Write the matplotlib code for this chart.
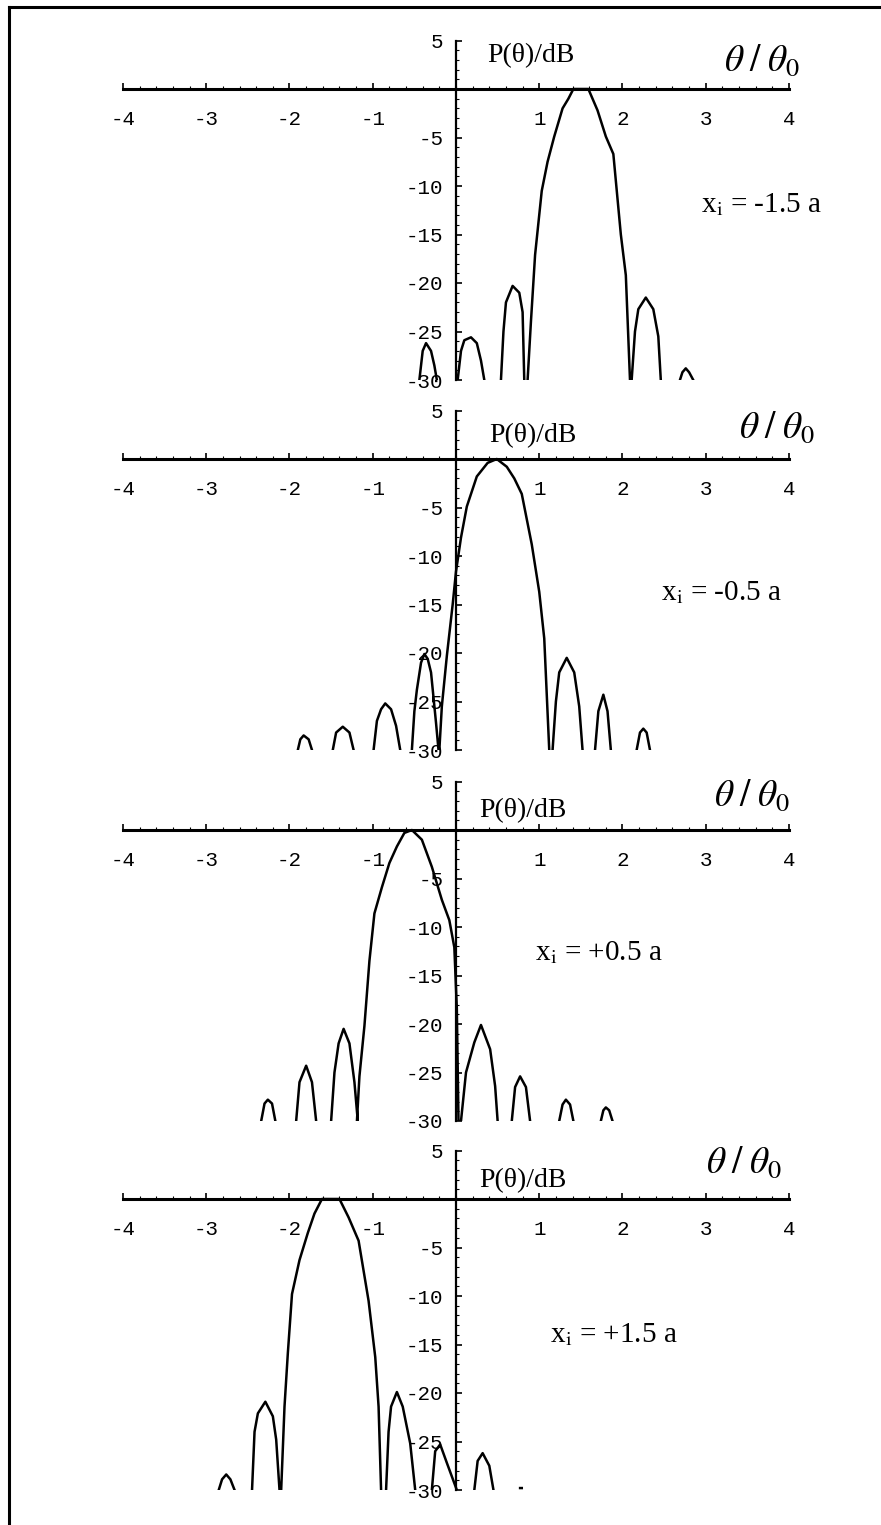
import numpy as np
import matplotlib
matplotlib.use("Agg")
import matplotlib.pyplot as plt
from matplotlib.lines import Line2D

plt.rcParams['axes.unicode_minus'] = False
plt.rcParams['mathtext.fontset'] = 'stix'

nan = np.nan

# x_i = -1.5 a  (lobes separated by nan)
p1_x = [0.86, 0.90, 0.95, 1.03, 1.10, 1.18, 1.28, 1.35, 1.41, 1.50, 1.59, 1.65, 1.70, 1.80, 1.89, 1.98, 2.04, 2.09, nan,
        -0.44, -0.40, -0.36, -0.30, -0.26, -0.23, nan,
        0.02, 0.06, 0.10, 0.18, 0.25, 0.30, 0.34, nan,
        0.54, 0.57, 0.60, 0.68, 0.76, 0.80, 0.82, nan,
        2.11, 2.15, 2.19, 2.28, 2.37, 2.43, 2.46, nan,
        2.69, 2.72, 2.76, 2.80, 2.85]
p1_y = [-30, -24, -17.1, -10.5, -7.5, -4.9, -2.0, -1.0, 0, 0, 0, -1.2, -2.2, -4.9, -6.7, -15, -19.2, -30, nan,
        -30, -27, -26.2, -27, -28.5, -30, nan,
        -30, -27, -25.9, -25.6, -26.2, -28, -30, nan,
        -30, -25, -22, -20.3, -21, -23, -30, nan,
        -30, -25, -22.7, -21.5, -22.7, -25.5, -30, nan,
        -30, -29.2, -28.8, -29.2, -30]

# x_i = -0.5 a
p2_x = [-0.20, -0.17, -0.11, -0.04, 0.0, 0.06, 0.13, 0.25, 0.38, 0.49, 0.61, 0.70, 0.79, 0.91, 1.0, 1.06, 1.12, nan,
        -0.53, -0.50, -0.47, -0.42, -0.38, -0.34, -0.30, -0.24, -0.21, nan,
        -0.99, -0.95, -0.90, -0.85, -0.78, -0.72, -0.67, nan,
        -1.48, -1.44, -1.36, -1.28, -1.23, nan,
        -1.90, -1.87, -1.83, -1.77, -1.73, nan,
        1.16, 1.20, 1.24, 1.33, 1.42, 1.48, 1.52, nan,
        1.67, 1.71, 1.77, 1.82, 1.86, nan,
        2.17, 2.21, 2.25, 2.29, 2.33]
p2_y = [-30, -25.5, -20.3, -15, -11.6, -8.1, -4.9, -1.8, -0.4, 0, -0.8, -2.0, -3.6, -8.8, -13.7, -18.5, -30, nan,
        -30, -26, -23.8, -21, -20.1, -20.6, -22, -27.2, -30, nan,
        -30, -27, -25.8, -25.2, -25.8, -27.5, -30, nan,
        -30, -28.2, -27.6, -28.2, -30, nan,
        -30, -28.9, -28.5, -28.9, -30, nan,
        -30, -25, -22, -20.5, -22, -25.5, -30, nan,
        -30, -26, -24.3, -26, -30, nan,
        -30, -28.2, -27.8, -28.2, -30]

# x_i = +0.5 a
p3_x = [-1.19, -1.16, -1.10, -1.04, -0.98, -0.89, -0.80, -0.71, -0.62, -0.53, -0.41, -0.29, -0.17, -0.08, -0.02, 0.01, 0.03, nan,
        0.06, 0.12, 0.22, 0.30, 0.41, 0.47, 0.50, nan,
        0.67, 0.71, 0.77, 0.84, 0.89, nan,
        1.24, 1.28, 1.32, 1.37, 1.41, nan,
        1.74, 1.77, 1.80, 1.84, 1.88, nan,
        -1.50, -1.46, -1.41, -1.35, -1.28, -1.22, -1.18, nan,
        -1.92, -1.88, -1.80, -1.73, -1.68, nan,
        -2.34, -2.30, -2.26, -2.21, -2.17]
p3_y = [-30, -25.4, -20.2, -13.5, -8.6, -5.9, -3.4, -1.7, -0.3, 0, -1.0, -3.8, -7.2, -9.3, -12.1, -18.4, -30, nan,
        -30, -25, -21.9, -20.1, -22.6, -26.4, -30, nan,
        -30, -26.5, -25.4, -26.5, -30, nan,
        -30, -28.3, -27.8, -28.3, -30, nan,
        -30, -28.9, -28.6, -28.9, -30, nan,
        -30, -25, -22, -20.5, -22, -26, -30, nan,
        -30, -26, -24.3, -26, -30, nan,
        -30, -28.2, -27.8, -28.2, -30]

# x_i = +1.5 a
p4_x = [-2.10, -2.06, -2.02, -1.97, -1.88, -1.78, -1.70, -1.61, -1.50, -1.40, -1.29, -1.17, -1.05, -0.97, -0.93, -0.90, nan,
        -2.45, -2.42, -2.38, -2.29, -2.20, -2.16, -2.12, nan,
        -2.85, -2.81, -2.76, -2.71, -2.66, nan,
        -0.84, -0.81, -0.78, -0.71, -0.64, -0.55, -0.49, nan,
        -0.29, -0.25, -0.19, -0.11, 0.01, nan,
        0.22, 0.26, 0.32, 0.40, 0.45, nan,
        0.77, 0.79]
p4_y = [-30, -21.4, -15.9, -9.8, -6.3, -3.5, -1.5, 0, 0, 0, -1.9, -4.3, -10.5, -16.3, -21.4, -30, nan,
        -30, -24, -22.1, -20.9, -22.4, -24.8, -30, nan,
        -30, -28.9, -28.4, -28.9, -30, nan,
        -30, -24, -21.4, -19.9, -21.4, -25.2, -30, nan,
        -30, -26, -25.3, -27.2, -30, nan,
        -30, -27, -26.2, -27.5, -30, nan,
        -29.8, -29.8]

curves_x = [p1_x, p2_x, p3_x, p4_x]
curves_y = [p1_y, p2_y, p3_y, p4_y]
xi_labels = ['-1.5 a', '-0.5 a', '+0.5 a', '+1.5 a']
xi_pos = [(2.94, -11.9), (2.46, -13.8), (0.95, -12.6), (1.13, -14.0)]
p_pos = [(0.37, 2.8), (0.40, 1.7), (0.28, 1.3), (0.28, 1.2)]
th_pos = [(3.22, 1.9), (3.40, 2.2), (3.10, 2.5), (3.00, 2.7)]

xticks = [-4, -3, -2, -1, 1, 2, 3, 4]
yticks = [5, -5, -10, -15, -20, -25, -30]

W, H = 881, 1525
fig = plt.figure(figsize=(W / 100, H / 100), dpi=100)

zero_px = [89, 459, 830, 1199]   # pixel row of the 0 dB axis in each panel
px_per_db = 9.7
left_px, right_px = 123, 789

for k in range(4):
    top = zero_px[k] - 5 * px_per_db
    bot = zero_px[k] + 30 * px_per_db
    ax = fig.add_axes((left_px / W, 1 - bot / H, (right_px - left_px) / W, (bot - top) / H))
    ax.set_xlim(-4, 4)
    ax.set_ylim(-30, 5)
    ax.patch.set_alpha(0)
    for s in ['top', 'right']:
        ax.spines[s].set_visible(False)
    ax.spines['left'].set_position(('data', 0))
    ax.spines['bottom'].set_position(('data', 0))
    ax.spines['left'].set_linewidth(1.6)
    ax.spines['bottom'].set_linewidth(2.2)

    ax.set_xticks(xticks)
    ax.set_xticks(np.arange(-4, 4.01, 0.2), minor=True)
    ax.set_yticks(yticks)
    ax.set_yticks(np.arange(-30, 5.01, 1), minor=True)
    ax.tick_params(axis='x', which='major', direction='in', length=4, width=1.2, pad=15,
                   labelsize=15, labelfontfamily='Liberation Mono')
    ax.tick_params(axis='y', which='major', direction='in', length=4, width=1.2, pad=9,
                   labelsize=15, labelfontfamily='Liberation Mono')
    ax.tick_params(which='minor', direction='in', length=2, width=0.8)

    ax.plot(curves_x[k], curves_y[k], color='black', lw=1.8, solid_joinstyle='round')

    ax.text(p_pos[k][0], p_pos[k][1], 'P(θ)/dB', fontsize=20, family='Liberation Serif',
            ha='left', va='baseline')
    ax.text(th_pos[k][0], th_pos[k][1], r'$\theta\;/\;\theta_0$', fontsize=27,
            ha='left', va='baseline', clip_on=False)
    ax.text(xi_pos[k][0], xi_pos[k][1], r'x$_\mathrm{i}$ = ' + xi_labels[k], fontsize=21,
            family='Liberation Serif', ha='left', va='center')

# page frame (top and left edge of the scanned page)
fig.add_artist(Line2D([9 / W, 9 / W], [0, 1 - 7 / H], color='black', lw=2.2))
fig.add_artist(Line2D([9 / W, 1], [1 - 7 / H, 1 - 7 / H], color='black', lw=2.2))

fig.savefig('out.png', dpi=100)
